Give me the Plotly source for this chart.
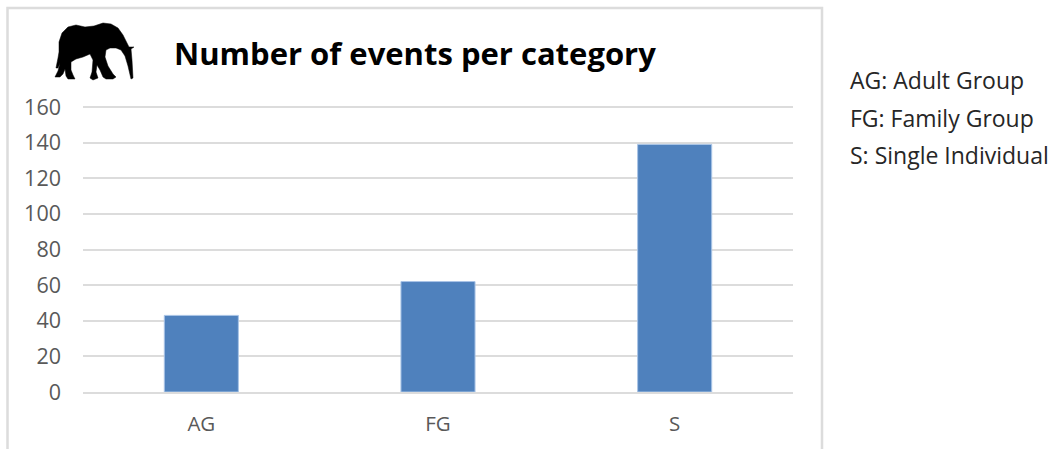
import plotly.graph_objects as go

categories = ["AG", "FG", "S"]
events = [43, 62, 139]
y_ticks = [0, 20, 40, 60, 80, 100, 120, 140, 160]
key_lines = ["AG: Adult Group", "FG: Family Group", "S: Single Individual"]
title_text = "Number of events per category"

WIDTH, HEIGHT = 1053, 449
LEFT, RIGHT, TOP, BOTTOM = 83, 793, 105, 392
FONT = "'Open Sans', Lato, sans-serif"
GRID = "#dcdcdc"


def px(x):
    return (x - LEFT) / (RIGHT - LEFT)


def py(y):
    return (BOTTOM - y) / (BOTTOM - TOP)


# Elephant silhouette outline, in page pixels
elephant_outline = [
    (59, 52), (59, 42), (62, 33), (68, 27), (76, 25), (85, 27), (94, 26), (103, 23),
    (111, 24), (118, 28), (123, 35), (127, 43), (129, 47), (134, 47), (131, 49),
    (132, 60), (133, 78), (131, 79), (128, 66), (125, 56), (121, 50), (116, 48),
    (110, 48), (106, 50), (105, 57), (108, 66), (113, 74), (116, 77), (113, 79),
    (106, 79), (103, 77), (100, 70), (97, 65), (96, 72), (98, 78), (93, 80),
    (90, 78), (92, 72), (93, 60), (90, 54), (83, 57), (76, 59), (71, 62),
    (71, 70), (73, 75), (75, 79), (68, 79), (66, 76), (65, 69), (63, 74),
    (60, 77), (55, 77), (58, 71), (60, 63), (58, 68), (56, 68), (58, 58),
]
elephant_path = "M " + " L ".join(f"{px(x):.5f},{py(y):.5f}" for x, y in elephant_outline) + " Z"

fig = go.Figure(
    go.Bar(
        x=categories,
        y=events,
        marker=dict(color="#4f81bd", line=dict(color="#a9c4e6", width=1)),
        hoverinfo="x+y",
    )
)

# Chart frame: left, top and right edges run off the bottom of the page
frame = dict(type="path", xref="paper", yref="paper",
             path=f"M {px(7.5)},{py(460)} L {px(7.5)},{py(8)} L {px(822)},{py(8)} L {px(822)},{py(460)}",
             line=dict(color=GRID, width=2.5))
elephant = dict(type="path", xref="paper", yref="paper", path=elephant_path,
                fillcolor="black", line=dict(color="black", width=0.5))

annotations = [
    dict(text=f"<b>{title_text}</b>", x=px(415), y=py(53), xref="paper", yref="paper",
         showarrow=False, xanchor="center", yanchor="middle",
         font=dict(family=FONT, size=31, color="black"))
]
for line, y in zip(key_lines, [80, 118, 155]):
    annotations.append(
        dict(text=line, x=px(848), y=py(y), xref="paper", yref="paper", showarrow=False,
             xanchor="left", yanchor="middle", font=dict(family=FONT, size=23, color="#262626"))
    )

fig.update_layout(
    width=WIDTH, height=HEIGHT,
    margin=dict(l=LEFT, r=WIDTH - RIGHT, t=TOP, b=HEIGHT - BOTTOM, pad=0),
    paper_bgcolor="white", plot_bgcolor="white",
    bargap=0.687, showlegend=False,
    shapes=[frame, elephant],
    annotations=annotations,
    font=dict(family=FONT, color="#595959"),
)
fig.update_xaxes(type="category", showgrid=False, ticks="", showline=True, linecolor=GRID,
                 linewidth=2, tickfont=dict(size=20.5, color="#595959"), ticklabelstandoff=12,
                 zeroline=False)
# The range runs a little past 160 so the top gridline is still drawn
fig.update_yaxes(range=[0, 161.12], tickvals=y_ticks, showgrid=True, gridcolor=GRID, gridwidth=2,
                 zeroline=False, showline=False, ticks="", tickfont=dict(size=21.5, color="#595959"),
                 ticklabelstandoff=21)

fig.write_html("out.html")
